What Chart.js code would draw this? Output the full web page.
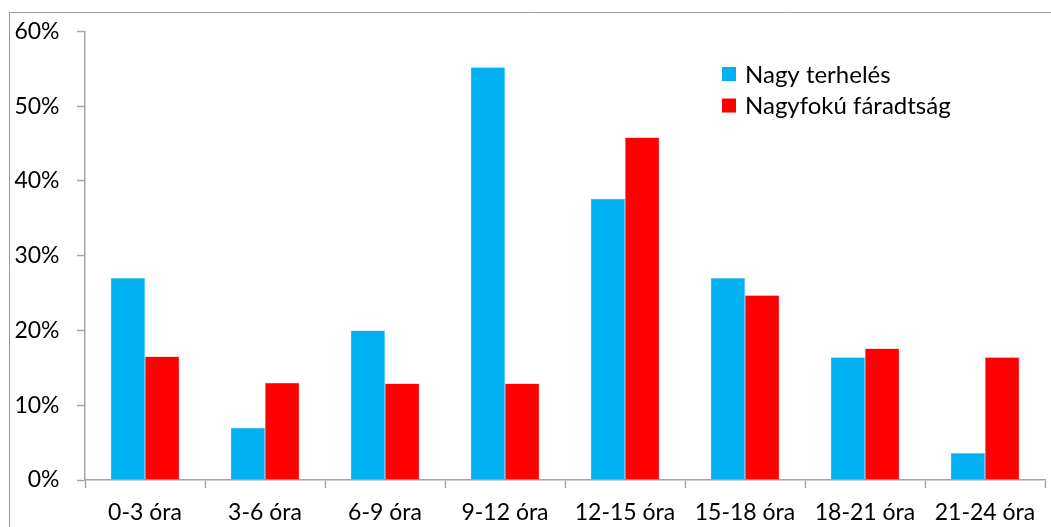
<!DOCTYPE html>
<html>
<head>
<meta charset="utf-8">
<script src="https://cdn.jsdelivr.net/npm/chart.js@4.4.0/dist/chart.umd.min.js"></script>
<style>
html,body{margin:0;padding:0;background:#fff;}
#wrap{width:1051px;height:527px;position:relative;}
</style>
</head>
<body>
<div id="wrap"><canvas id="c" width="1051" height="527"></canvas></div>
<script>
const categories = ["0-3 óra","3-6 óra","6-9 óra","9-12 óra","12-15 óra","15-18 óra","18-21 óra","21-24 óra"];
const seriesNames = ["Nagy terhelés","Nagyfokú fáradtság"];
const nagyTerheles = [27.0, 7.0, 20.0, 55.2, 37.6, 27.0, 16.4, 3.6];
const nagyfokuFaradtsag = [16.5, 13.0, 12.9, 12.9, 45.8, 24.7, 17.6, 16.4];
const yTicks = [0, 10, 20, 30, 40, 50, 60];

const FONT = "Lato";
const axisColor = "#A6A6A6";

const framePlugin = {
  id: 'frame',
  beforeDraw(chart) {
    const ctx = chart.ctx;
    ctx.save();
    ctx.strokeStyle = "#9a9a9a";
    ctx.lineWidth = 1;
    ctx.beginPath();
    ctx.moveTo(9.5, 600);
    ctx.lineTo(9.5, 12.5);
    ctx.lineTo(1100, 12.5);
    ctx.stroke();
    ctx.restore();
  }
};

const legendPlugin = {
  id: 'customLegend',
  afterDraw(chart) {
    const ctx = chart.ctx;
    ctx.save();
    ctx.font = "24px " + FONT;
    ctx.textBaseline = "middle";
    ctx.textAlign = "left";
    chart.data.datasets.forEach((ds, i) => {
      const y = 74 + i * 31.5;
      ctx.fillStyle = ds.backgroundColor;
      ctx.fillRect(722, y - 7, 14, 14);
      ctx.fillStyle = "#000";
      ctx.fillText(ds.label, 745, y + 1);
    });
    ctx.restore();
  }
};

new Chart(document.getElementById('c'), {
  type: 'bar',
  data: {
    labels: categories,
    datasets: [
      { label: seriesNames[0], data: nagyTerheles, backgroundColor: "#00B0F0", borderColor: "#6fd3f7", borderWidth: 0.5 },
      { label: seriesNames[1], data: nagyfokuFaradtsag, backgroundColor: "#FF0000", borderColor: "#ff7070", borderWidth: 0.5 }
    ]
  },
  options: {
    responsive: false,
    animation: false,
    events: [],
    layout: { padding: { top: 31, right: 6, left: 0, bottom: 0 } },
    datasets: { bar: { categoryPercentage: 0.572, barPercentage: 1.0 } },
    plugins: { legend: { display: false }, tooltip: { enabled: false } },
    scales: {
      x: {
        grid: { display: true, drawOnChartArea: false, offset: true, color: axisColor, tickLength: 8, tickWidth: 1.5 },
        border: { display: true, color: axisColor, width: 1.5 },
        ticks: { color: "#000", font: { family: FONT, size: 23 }, padding: 11, maxRotation: 0, autoSkip: false },
        afterFit(s) { s.height = 47; }
      },
      y: {
        min: 0, max: 60,
        afterBuildTicks(s) { s.ticks = yTicks.map(v => ({ value: v })); },
        grid: { display: true, drawOnChartArea: false, color: axisColor, tickLength: 8, tickWidth: 1.5 },
        border: { display: true, color: axisColor, width: 1.5 },
        ticks: { color: "#000", font: { family: FONT, size: 23 }, padding: 17.5, callback: v => v + "%" },
        afterFit(s) { s.width = 85; }
      }
    }
  },
  plugins: [framePlugin, legendPlugin]
});
</script>
</body>
</html>
